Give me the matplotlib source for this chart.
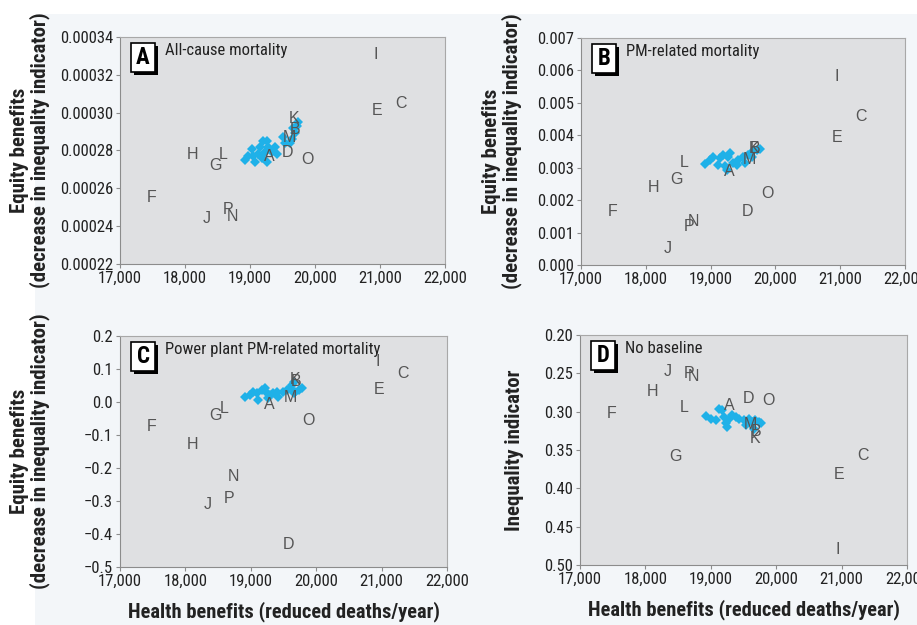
import matplotlib
matplotlib.use('Agg')
from matplotlib import pyplot as pl
from matplotlib import font_manager
from matplotlib.patches import Rectangle
from matplotlib.transforms import ScaledTranslation
from matplotlib.ticker import FuncFormatter, MultipleLocator

# Scenario letters and their health benefits (reduced deaths/year)
letters = ['A', 'B', 'C', 'D', 'E', 'F', 'G', 'H',
           'I', 'J', 'K', 'L', 'M', 'N', 'O', 'P']
health = [19290, 19690, 21320, 19570, 20955, 17490, 18467, 18112,
          20940, 18340, 19672, 18589, 19600, 18729, 19877, 18660]

# Equity benefits / inequality indicator for each letter, one list per panel
equity_a = [0.000277, 0.000291, 0.000305, 0.000279, 0.000301, 0.000255,
            0.000272, 0.000278, 0.000331, 0.000244, 0.000297, 0.000278,
            0.000287, 0.000245, 0.000275, 0.000249]
equity_b = [0.00288, 0.00360, 0.00458, 0.00164, 0.00394, 0.00164,
            0.00265, 0.00240, 0.00582, 0.00051, 0.00360, 0.00317,
            0.00324, 0.00134, 0.00221, 0.00120]
equity_c = [-0.009, 0.062, 0.087, -0.432, 0.038, -0.075, -0.040, -0.129,
            0.122, -0.311, 0.067, -0.019, 0.014, -0.225, -0.057, -0.292]
ineq_d = [0.292, 0.326, 0.357, 0.283, 0.382, 0.302, 0.358, 0.274,
          0.480, 0.247, 0.335, 0.295, 0.317, 0.254, 0.285, 0.250]

# Sensitivity runs (blue diamonds)
runs_x_a = [18923, 18975, 19026, 19051, 19077, 19128, 19154, 19179,
            19205, 19231, 19256, 19282, 19256, 19333, 19385, 19410,
            19513, 19538, 19615, 19641, 19667, 19718, 19744, 19692]
runs_y_a = [0.000275, 0.000277, 0.000281, 0.000277, 0.000274, 0.000278,
            0.000282, 0.000276, 0.000285, 0.000279, 0.000285, 0.000282,
            0.000274, 0.000279, 0.000282, 0.000278, 0.000287, 0.000284,
            0.000284, 0.000286, 0.000292, 0.000293, 0.000295, 0.000289]

runs_x_b = [18914, 18991, 19042, 19119, 19145, 19196, 19222, 19248,
            19274, 19299, 19351, 19402, 19428, 19505, 19531, 19582,
            19634, 19659, 19711, 19762]
runs_y_b = [0.00312, 0.00324, 0.00334, 0.00309, 0.00329, 0.00340,
            0.00304, 0.00293, 0.00334, 0.00345, 0.00316, 0.00309,
            0.00324, 0.00334, 0.00314, 0.00340, 0.00334, 0.00350,
            0.00355, 0.00357]

runs_x_c = [18913, 18990, 19041, 19092, 19117, 19168, 19219, 19245,
            19270, 19296, 19347, 19398, 19423, 19500, 19551, 19602,
            19628, 19653, 19679, 19730, 19781, 19653]
runs_y_c = [0.016, 0.021, 0.031, 0.026, 0.006, 0.036, 0.041, 0.026,
            0.011, 0.021, 0.026, 0.031, 0.016, 0.031, 0.036, 0.041,
            0.051, 0.061, 0.031, 0.036, 0.041, 0.026]

runs_x_d = [18920, 18996, 19072, 19123, 19174, 19200, 19225, 19251,
            19276, 19327, 19378, 19429, 19505, 19531, 19582, 19632,
            19658, 19683, 19734, 19760]
runs_y_d = [0.306, 0.309, 0.311, 0.296, 0.298, 0.307, 0.315, 0.320,
            0.309, 0.304, 0.307, 0.309, 0.311, 0.317, 0.309, 0.313,
            0.322, 0.311, 0.313, 0.315]

# Pick a condensed face if one is installed, else Arial-like Liberation Sans
names = {f.name for f in font_manager.fontManager.ttflist}
stretch = 'normal'
shrink = 0.82
for cand in ['Liberation Sans Narrow', 'Roboto Condensed',
             'Open Sans Condensed', 'Noto Sans Condensed',
             'DejaVu Sans Condensed']:
    if cand in names:
        narrow = [cand, 'DejaVu Sans']
        shrink = 1.0
        break
else:
    cond = [f for f in font_manager.fontManager.ttflist
            if f.name == 'DejaVu Sans' and f.stretch == 'condensed']
    if cond:
        narrow = ['DejaVu Sans']
        stretch = 'condensed'
        shrink = 0.9
    else:
        narrow = ['Liberation Sans', 'DejaVu Sans']

blue = '#1fb1e8'

fig = pl.figure(figsize=(9.17, 6.25), dpi=100)
fig.patch.set_facecolor('white')
# pale page background behind the panels
fig.patches.append(Rectangle((35/917, 0), 1, 1 - 14/625,
                             transform=fig.transFigure,
                             facecolor='#f3f6f9', edgecolor='none',
                             zorder=-10))


def nfont(size, bold=False):
    return dict(family=narrow, fontstretch=stretch, fontsize=size*shrink,
                fontweight='bold' if bold else 'normal')


def panel(rect, tag, title, ys, rx, ry, ylim, step, fmt, ylabel, labx,
          invert=False, xlabel=False):
    ax = fig.add_axes(rect)
    ax.set_facecolor('#dfe0e2')
    ax.plot(rx, ry, linestyle='none', marker='D', markersize=5,
            color=blue, markeredgewidth=0, zorder=2)
    for let, x, y in zip(letters, health, ys):
        ax.text(x, y, let, ha='center', va='center', fontsize=11.5,
                color='#555555', family=['Liberation Sans', 'DejaVu Sans'],
                zorder=3)

    ax.set_xlim(17000, 22000)
    ax.set_ylim(*ylim)
    if invert:
        ax.invert_yaxis()
    ax.xaxis.set_major_locator(MultipleLocator(1000))
    ax.yaxis.set_major_locator(MultipleLocator(step))
    ax.xaxis.set_major_formatter(FuncFormatter(lambda v, p: f'{v:,.0f}'))
    ax.yaxis.set_major_formatter(
        FuncFormatter(lambda v, p: format(v, fmt).replace('-', '\u2212')))

    for side in ['left', 'bottom']:
        ax.spines[side].set_color('#8c8c8c')
    for side in ['top', 'right']:
        ax.spines[side].set_color('#a8a8a8')
    ax.tick_params(direction='out', length=3, color='#8c8c8c',
                   labelcolor='#222222', pad=2)
    for lab in ax.get_xticklabels() + ax.get_yticklabels():
        lab.set(**nfont(12))

    ax.set_ylabel(ylabel, color='#222222', linespacing=1.0,
                  **nfont(15, True))
    ax.yaxis.set_label_coords(labx, 0.5)
    if xlabel:
        ax.set_xlabel('Health benefits (reduced deaths/year)',
                      color='#222222', **nfont(14.8, True))
        ax.xaxis.set_label_coords(0.5, -0.15)

    # panel tag box with drop shadow, measured from the axes top-left corner
    tr = fig.dpi_scale_trans + ScaledTranslation(0, 1, ax.transAxes)
    ax.add_patch(Rectangle((0.14, -0.38), 0.24, 0.29, transform=tr,
                           facecolor='black', edgecolor='none',
                           clip_on=False, zorder=4))
    ax.add_patch(Rectangle((0.11, -0.35), 0.24, 0.29, transform=tr,
                           facecolor='white', edgecolor='black', lw=1.2,
                           clip_on=False, zorder=5))
    ax.text(0.23, -0.205, tag, transform=tr, ha='center', va='center',
            zorder=6, **nfont(16.5, True))
    ax.text(0.45, -0.135, title, transform=tr, ha='left', va='center',
            color='#222222', zorder=6, **nfont(12))
    return ax


eq_label = 'Equity benefits\n(decrease in inequality indicator)'

panel([120/917, 1 - 264/625, 325/917, 227/625], 'A', 'All-cause mortality',
      equity_a, runs_x_a, runs_y_a, (0.00022, 0.00034), 0.00002, '.5f',
      eq_label, -0.215)
panel([581/917, 1 - 265/625, 324/917, 227/625], 'B', 'PM-related mortality',
      equity_b, runs_x_b, runs_y_b, (0.0, 0.007), 0.001, '.3f',
      eq_label, -0.182)
panel([120/917, 1 - 567/625, 327/917, 231/625], 'C',
      'Power plant PM-related mortality',
      equity_c, runs_x_c, runs_y_c, (-0.5, 0.2), 0.1, '.1f',
      eq_label, -0.214, xlabel=True)
panel([580/917, 1 - 565/625, 327/917, 230/625], 'D', 'No baseline',
      ineq_d, runs_x_d, runs_y_d, (0.20, 0.50), 0.05, '.2f',
      'Inequality indicator', -0.171, invert=True, xlabel=True)

fig.savefig('out.png', dpi=100)
